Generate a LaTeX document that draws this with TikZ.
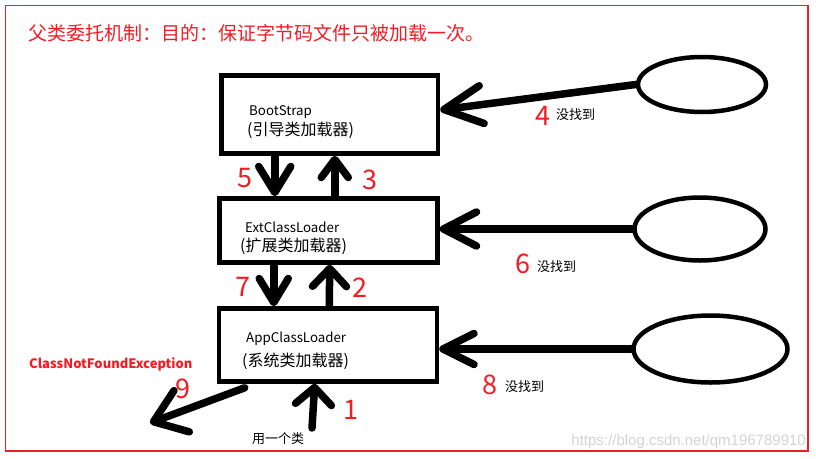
\documentclass[tikz,border=0pt]{standalone}
\usepackage{fontspec}
\setmainfont{Noto Sans CJK SC}
\newfontfamily\wmfont{Liberation Sans}
\usetikzlibrary{arrows.meta,shapes.geometric}
\definecolor{framered}{RGB}{232,32,40}
\definecolor{labelred}{RGB}{242,28,36}
\definecolor{wmgray}{RGB}{212,212,212}

\tikzset{
  loader/.style={draw, rectangle, line width=4.5pt, inner sep=0pt},
  hole/.style={draw, ellipse, line width=4.5pt, inner sep=0pt},
  push/.style 2 args={line width=7.5pt, line cap=round,
    -{Straight Barb[length=#1, width=#2, round]}},
  boxtext/.style={anchor=base west, inner sep=0pt, font=\fontsize{13.3}{16}\selectfont},
  boxcjk/.style={anchor=base west, inner sep=0pt, font=\fontsize{16}{19}\selectfont},
  step num/.style={anchor=base west, inner sep=0pt, text=labelred, font=\fontsize{27}{30}\selectfont},
  note/.style={anchor=base west, inner sep=0pt, font=\fontsize{13}{15}\selectfont},
}

\begin{document}
\begin{tikzpicture}[x=1pt, y=-1pt]
  \fill[white] (0,0) rectangle (816,458);
  \useasboundingbox (0,0) rectangle (816,458);
  \draw[framered, line width=1.5pt] (5.5,5.5) rectangle (808,451);

  % heading
  \node[anchor=base west, inner sep=0pt, text=labelred, font=\fontsize{19}{22}\selectfont]
    (title) at (28,40) {父类委托机制：目的：保证字节码文件只被加载一次。};

  % the three class loaders
  \node[loader, minimum width=216.5pt, minimum height=78pt] (boot) at (329.75,114.5) {};
  \node[loader, minimum width=218pt, minimum height=64pt] (ext) at (328.5,230.5) {};
  \node[loader, minimum width=218pt, minimum height=73pt] (app) at (328,345) {};

  \node[boxtext] (bootname) at (249,115) {BootStrap};
  \node[boxcjk]  (bootcn)   at (247,135) {(引导类加载器)};
  \node[boxtext] (extname)  at (245,232) {ExtClassLoader};
  \node[boxcjk]  (extcn)    at (240,251) {(扩展类加载器)};
  \node[boxtext] (appname)  at (246,342) {AppClassLoader};
  \node[boxcjk]  (appcn)    at (242,366) {(系统类加载器)};

  % search locations of each loader
  \node[hole, minimum width=128pt, minimum height=55pt]  (ell1) at (702,84.5) {};
  \node[hole, minimum width=131pt, minimum height=63pt]  (ell2) at (700,229) {};
  \node[hole, minimum width=154pt, minimum height=67pt]  (ell3) at (710.5,349) {};

  % delegation upwards and downwards
  \draw[push={18pt}{34pt}] ([xshift=112.5pt]app.north west) -- ([xshift=112.5pt]ext.south west);
  \draw[push={18pt}{27pt}] ([xshift=117.5pt]ext.north west) -- ([xshift=115.5pt]boot.south west);
  \draw[push={26pt}{32pt}] ([xshift=55.5pt]boot.south west) -- ([xshift=57.5pt]ext.north west);
  \draw[push={24pt}{29pt}] ([xshift=56.5pt]ext.south west) -- ([xshift=57pt]app.north west);

  % not found in the search locations
  \draw[push={38pt}{38pt}] (ell1.west) -- ([yshift=4.5pt]boot.east);
  \draw[push={33pt}{34pt}] (ell2.west) -- (ext.east |- ell2.west);
  \draw[push={31pt}{31pt}] (ell3.west) -- (app.east |- ell3.west);

  % request and final failure
  \coordinate (ask) at (312,428);
  \coordinate (lost) at (150,423);
  \draw[push={17pt}{36pt}] (ask) -- ([xshift=98pt]app.south west);
  \draw[push={30pt}{44pt}] ([xshift=28pt,yshift=-4pt]app.south west) -- (lost);

  % step numbers
  \node[step num] (n1) at (343,419) {1};
  \node[step num] (n2) at (352,297) {2};
  \node[step num] (n3) at (362,189) {3};
  \node[step num] (n4) at (535,125) {4};
  \node[step num] (n5) at (237,187) {5};
  \node[step num] (n6) at (515,273) {6};
  \node[step num] (n7) at (235,296) {7};
  \node[step num] (n8) at (482,394) {8};
  \node[step num] (n9) at (175,398) {9};

  \node[note] (miss4) at (556,119) {没找到};
  \node[note] (miss6) at (537,271) {没找到};
  \node[note] (miss8) at (505,391) {没找到};
  \node[note] (use)   at (252,443) {用一个类};

  \node[anchor=base west, inner sep=0pt, text=labelred,
        font=\fontsize{13}{15}\selectfont\bfseries] (cnfe) at (29,368) {ClassNotFoundException};

  \node[anchor=base east, inner sep=0pt, text=wmgray,
        font=\wmfont\fontsize{15}{18}\selectfont] (wm) at (806,445) {https://blog.csdn.net/qm196789910};
\end{tikzpicture}
\end{document}
